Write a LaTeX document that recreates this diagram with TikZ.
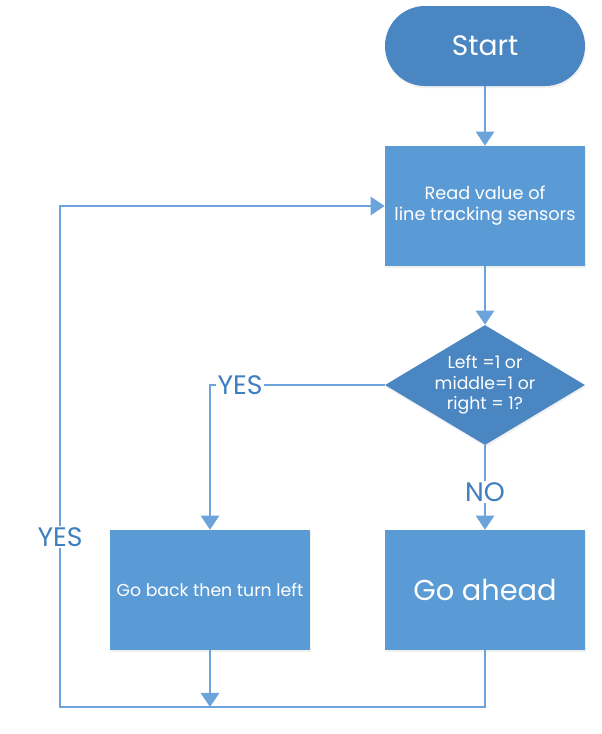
\documentclass[tikz,border=0pt]{standalone}
\usepackage{fontspec}
\setmainfont{Poppins}
\usetikzlibrary{shapes.geometric,arrows.meta,shadows}
\definecolor{boxblue}{HTML}{5B9BD5}
\definecolor{darkblue}{HTML}{4A86C2}
\definecolor{lineblue}{HTML}{6BA3DA}
\definecolor{textblue}{HTML}{3F7EBF}
\begin{document}
\begin{tikzpicture}
        \tikzstyle{node} = [rectangle, minimum width=5cm, minimum height=3cm, text centered, fill=boxblue, text=white, inner sep=2pt, drop shadow={opacity=0.12, shadow xshift=0.6pt, shadow yshift=-1.5pt}]
        \tikzstyle{term} = [rectangle, rounded corners=1cm, minimum width=5cm, minimum height=2cm, fill=darkblue, text=white, font=\fontsize{20}{24}\selectfont, drop shadow={opacity=0.12, shadow xshift=0.6pt, shadow yshift=-1.5pt}]
        \tikzstyle{decision} = [diamond, aspect=1.65, minimum width=5cm, minimum height=3cm, inner sep=0pt, fill=darkblue, text=white, align=center, font=\fontsize{12.3}{14.5}\selectfont, drop shadow={opacity=0.12, shadow xshift=0.6pt, shadow yshift=-1.5pt}]
        \tikzstyle{label} = [text=textblue, fill=white, inner sep=1pt, font=\fontsize{19}{22}\selectfont]
        \tikzstyle{arrow} = [lineblue, line width=1.4pt, -{Triangle[width=13pt,length=10pt]}]
        \tikzstyle{line} = [lineblue, line width=1.4pt]

                \useasboundingbox (0,0) rectangle (15.025,-18.35);

                \node (start) [term] at (12.125,-1.15) {Start};
                \node (read) [node, below of=start, node distance=4cm, align=center, font=\fontsize{12.6}{15}\selectfont] {Read value of\\line tracking sensors};
                \node (dia) [decision, below of=read, node distance=4.475cm] {Left =1 or\\middle=1 or\\right = 1?};
                \node (ahead) [node, below of=dia, node distance=5.125cm, font=\fontsize{20.5}{24}\selectfont] {Go ahead};
                \node (back) [node, left of=ahead, node distance=6.875cm, font=\fontsize{12.3}{14}\selectfont] {Go back then turn left};
                \node (yes1) [label, left of=dia, node distance=6.125cm] {YES};
                \node (no) [label, below of=dia, node distance=2.675cm] {NO};
                \coordinate (corner) at (1.5,-17.675);
                \node (yes2) [label] at (1.5,-13.425) {YES};

                \draw[arrow] (start) -- (read);
                \draw[arrow] (read) -- (dia);
                \draw[line] (dia.west) -- (yes1.east);
                \draw[arrow] (yes1.west) -| (back.north);
                \draw[line] (dia.south) -- (no.north);
                \draw[arrow] (no.south) -- (ahead.north);
                \draw[arrow] (back.south) -- (back.south |- corner);
                \draw[line] (ahead.south) |- (corner) -- (yes2.south);
                \draw[arrow] (yes2.north) |- (read.west);
    \end{tikzpicture}
\end{document}
